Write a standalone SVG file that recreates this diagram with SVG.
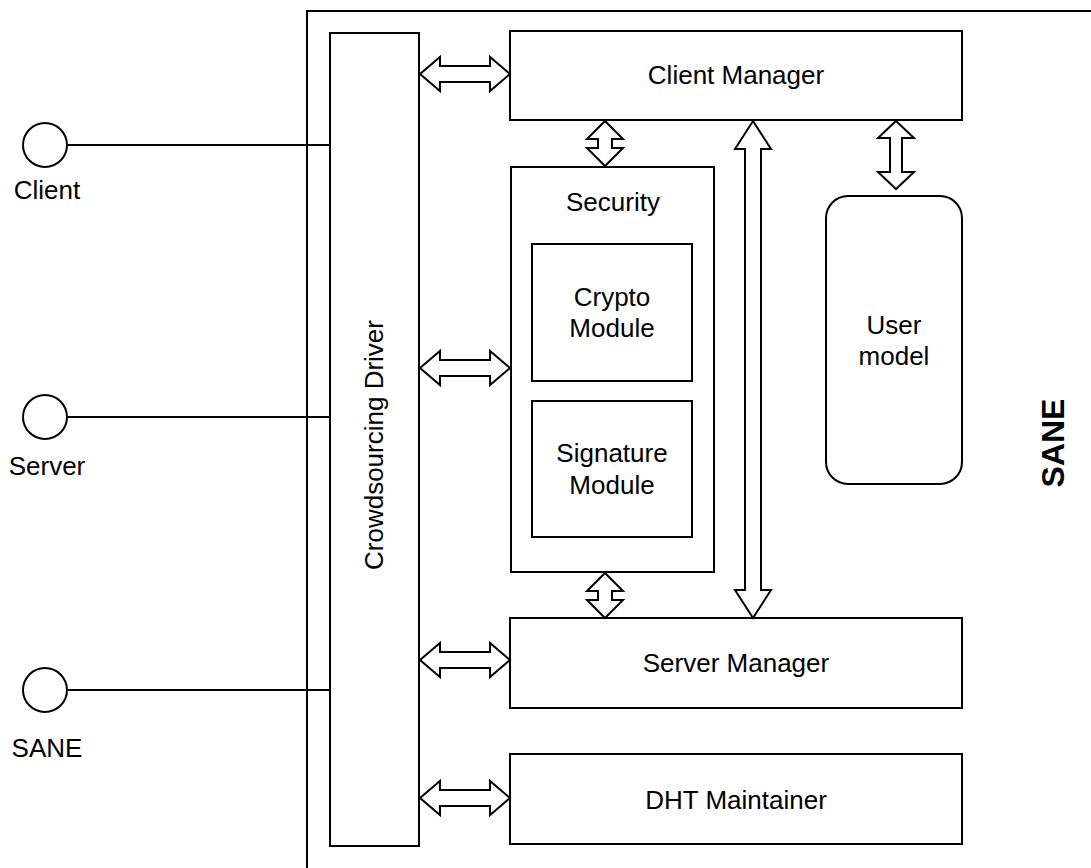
<svg xmlns="http://www.w3.org/2000/svg" width="1091" height="868" viewBox="0 0 1091 868">
<style>
.b{fill:#fff;stroke:#000;stroke-width:2}
.a{fill:#fff;stroke:#000;stroke-width:2;stroke-linejoin:miter}
.l{stroke:#000;stroke-width:2;fill:none}
text{font-family:"Liberation Sans",Arial,sans-serif;font-size:26px;fill:#000;text-anchor:middle;dominant-baseline:central}
</style>
<rect width="1091" height="868" fill="#fff"/>
<g id="frame"><rect x="307" y="11" width="800" height="880" class="b"/></g>
<g id="sane-label"><text transform="translate(1053,443) rotate(-90)" style="font-weight:bold;font-size:32px">SANE</text></g>
<g id="driver"><rect x="330" y="33" width="89" height="813" class="b"/><text transform="translate(374,445) rotate(-90)">Crowdsourcing Driver</text></g>
<g id="client-manager"><rect x="510" y="31" width="452" height="89" class="b"/><text x="736" y="75">Client Manager</text></g>
<g id="security"><rect x="511" y="167" width="203" height="405" class="b"/><text x="613" y="202">Security</text></g>
<g id="crypto"><rect x="532" y="244" width="160" height="137" class="b"/><text x="612" y="297">Crypto</text><text x="612" y="328">Module</text></g>
<g id="signature"><rect x="532" y="401" width="160" height="136" class="b"/><text x="612" y="453">Signature</text><text x="612" y="485">Module</text></g>
<g id="user-model"><rect x="826" y="196" width="136" height="288" rx="22" class="b"/><text x="894" y="325">User</text><text x="894" y="356">model</text></g>
<g id="server-manager"><rect x="510" y="618" width="452" height="90" class="b"/><text x="736" y="663">Server Manager</text></g>
<g id="dht"><rect x="510" y="754" width="452" height="90" class="b"/><text x="736" y="800">DHT Maintainer</text></g>
<g id="client"><circle cx="45" cy="145" r="22" class="b"/><text x="47" y="190">Client</text></g>
<g id="server"><circle cx="45" cy="417" r="22" class="b"/><text x="47" y="466">Server</text></g>
<g id="sane"><circle cx="45" cy="690" r="22" class="b"/><text x="47" y="748">SANE</text></g>
<g id="connectors">
<line x1="67" y1="145" x2="330" y2="145" class="l"/>
<line x1="67" y1="417" x2="330" y2="417" class="l"/>
<line x1="67" y1="690" x2="330" y2="690" class="l"/>
<polygon class="a" points="420,74 440,57 440,66 490,66 490,57 510,74 490,91 490,82 440,82 440,91"/>
<polygon class="a" points="420,368 440,351 440,360 490,360 490,351 510,368 490,385 490,376 440,376 440,385"/>
<polygon class="a" points="420,660 440,643 440,652 490,652 490,643 510,660 490,677 490,668 440,668 440,677"/>
<polygon class="a" points="420,798 440,781 440,790 490,790 490,781 510,798 490,815 490,806 440,806 440,815"/>
<polygon class="a" points="605,121 623,139 612,139 612,148 623,148 605,166 587,148 598,148 598,139 587,139"/>
<polygon class="a" points="605,573 623,591 612,591 612,600 623,600 605,618 587,600 598,600 598,591 587,591"/>
<polygon class="a" points="753,121 771,149 761,149 761,590 771,590 753,618 735,590 745,590 745,149 735,149"/>
<polygon class="a" points="896,121 914,138 902,138 902,172 914,172 896,189 878,172 890,172 890,138 878,138"/>
</g>
</svg>
